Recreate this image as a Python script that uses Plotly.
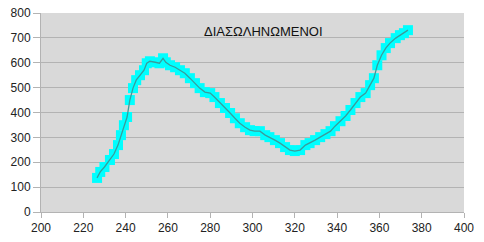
import plotly.graph_objects as go

x_vals = [226.5, 228, 230, 232.6, 234.5, 236.4, 237.8, 239.2, 240.7, 242, 243.5, 245, 246.8,
          248.7, 250, 251.5, 254, 256, 257.7, 259, 261, 263.4, 265.7, 268, 270.4, 272.8, 275,
          277.5, 280, 282, 284.6, 287, 289.4, 291.7, 294, 296.5, 298.8, 301, 303.5, 306, 308,
          310.6, 313, 315.4, 317.7, 320, 322.5, 325, 327, 329.6, 332, 334.5, 336.9, 339, 341.6,
          344, 346.3, 348.7, 351, 353.5, 355.6, 357.4, 359, 361, 363, 365, 367.7, 369.7, 371.6,
          373.5]
y_vals = [137, 161, 181, 209, 233, 269, 309, 349, 382, 450, 498, 530, 550,
          570, 598, 606, 602, 598, 618, 602, 590, 582, 570, 558, 538, 518, 498,
          482, 478, 462, 438, 418, 398, 377, 357, 341, 329, 325, 325, 309, 301,
          289, 277, 261, 249, 245, 249, 269, 277, 289, 301, 313, 325, 345, 365,
          386, 410, 438, 462, 478, 510, 538, 590, 630, 659, 679, 699, 711, 719,
          731]
title_text = "ΔΙΑΣΩΛΗΝΩΜΕΝΟΙ"
x_ticks = list(range(200, 401, 20))
y_ticks = list(range(0, 801, 100))

fig = go.Figure()
fig.add_trace(go.Scatter(
    x=x_vals, y=y_vals, mode="markers",
    marker=dict(symbol="square", size=10, color="#00ffff", line=dict(width=0)),
    showlegend=False,
))
fig.add_trace(go.Scatter(
    x=x_vals, y=y_vals, mode="lines",
    line=dict(color="#3a9c9c", width=1.3),
    showlegend=False,
))

fig.add_annotation(x=305, y=727, text=title_text, showarrow=False,
                   font=dict(family="Liberation Sans, Arial", size=13, color="#111111"))

axis_font = dict(family="Liberation Sans, Arial", size=12, color="#222222")
fig.update_layout(
    width=484, height=242,
    margin=dict(l=41, r=20, t=13, b=30),
    paper_bgcolor="white",
    plot_bgcolor="#d9d9d9",
    xaxis=dict(range=[200, 400], tickvals=x_ticks, showgrid=False, zeroline=False,
               showline=True, linecolor="#b3b3b3", linewidth=1, automargin=False,
               ticks="outside", ticklen=5, tickcolor="#b3b3b3", tickfont=axis_font),
    yaxis=dict(range=[0, 800], tickvals=y_ticks, showgrid=True, gridcolor="#b3b3b3",
               gridwidth=1, zeroline=False, automargin=False,
               showline=True, linecolor="#b3b3b3", linewidth=1,
               ticks="outside", ticklen=7, tickcolor="#b3b3b3", tickfont=axis_font),
)

fig.write_html("out.html")
